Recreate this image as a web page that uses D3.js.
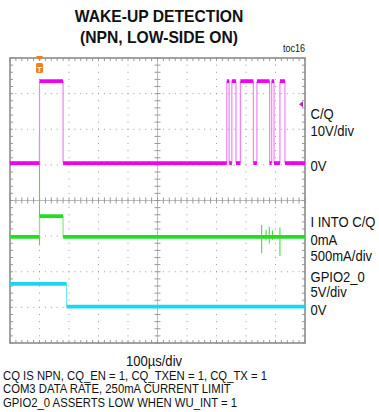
<!DOCTYPE html>
<html>
<head>
<meta charset="utf-8">
<script src="https://cdn.jsdelivr.net/npm/d3@7"></script>
<style>
  body { margin: 0; background: #fff; }
  text { font-family: "Liberation Sans", Arial, sans-serif; fill: #111; }
</style>
</head>
<body>
<script>
// time axis: 10 div x 100us
var timeDomain = [0, 1000];
var divX = 10, divY = 8;

// C/Q (V): alternating edges, starts low
var cqEdges = [100, 180, 735, 743, 752, 766, 781, 825, 837, 880, 887, 895, 915, 932];
var cqHigh = 23, cqLow = 0;

// I INTO C/Q (mA): steps and glitches
var iSteps = [[0, 0], [100, 290], [180, 0]];
var iSpikes = [[100, -120, 1470], [853, -230, 165], [868, -50, 95], [879, -95, 140], [890, -40, 90], [915, -270, 130]];

// GPIO2_0 (V)
var gpioSteps = [[0, 3.2], [192, 0]];

// channel zero offsets (div from center) and scales (units/div)
var chOffset = { cq: 1.05, i: -1.02, gpio: -2.98 };
var chScale = { cq: 10, i: 500, gpio: 5 };

var rightLabels = [
  ["C/Q", 119], ["10V/div", 136], ["0V", 170.5],
  ["I INTO C/Q", 226.5], ["0mA", 245], ["500mA/div", 261],
  ["GPIO2_0", 281.5], ["5V/div", 297], ["0V", 314.5]
];
var notes = [
  "CQ IS NPN,  CQ_EN = 1, CQ_TXEN = 1, CQ_TX = 1",
  "COM3 DATA RATE, 250mA CURRENT LIMIT",
  "GPIO2_0 ASSERTS LOW WHEN WU_INT = 1"
];

var W = 379, H = 412;
var plot = { left: 10, right: 305, top: 58, bottom: 343 };
var narrow = 0.87;

var svg = d3.select("body").append("svg")
    .attr("width", W)
    .attr("height", H);

var x = d3.scaleLinear().domain(timeDomain).range([plot.left, plot.right]);
var yDiv = d3.scaleLinear().domain([-divY / 2, divY / 2]).range([plot.bottom, plot.top]);
var xDiv = d3.scaleLinear().domain([0, divX]).range([plot.left, plot.right]);

function yOf(ch) {
    return v => yDiv(chOffset[ch] + v / chScale[ch]);
}

// grid dots
var grid = svg.append("g").attr("class", "grid");
var dotsX = d3.range(0, divX * 5 + 1).map(d => d / 5);
var dotsY = d3.range(0, divY * 5 + 1).map(d => d / 5 - divY / 2);
d3.range(1, divX).filter(d => d !== 5).forEach(function (k) {
    grid.selectAll(null).data(dotsY).enter().append("rect")
        .attr("x", xDiv(k) - 0.5).attr("y", d => yDiv(d) - 0.5)
        .attr("width", 1).attr("height", 1).attr("fill", "#9a9a9a");
});
d3.range(-divY / 2 + 1, divY / 2).filter(d => d !== 0).forEach(function (k) {
    grid.selectAll(null).data(dotsX).enter().append("rect")
        .attr("x", d => xDiv(d) - 0.5).attr("y", yDiv(k) - 0.5)
        .attr("width", 1).attr("height", 1).attr("fill", "#9a9a9a");
});

// center crosshair with ticks
var cx = xDiv(5), cy = yDiv(0);
grid.append("line").attr("x1", plot.left).attr("x2", plot.right)
    .attr("y1", cy).attr("y2", cy).attr("stroke", "#aaa").attr("stroke-width", 0.8);
grid.append("line").attr("y1", plot.top).attr("y2", plot.bottom)
    .attr("x1", cx).attr("x2", cx).attr("stroke", "#aaa").attr("stroke-width", 0.8);
grid.selectAll(null).data(dotsX).enter().append("line")
    .attr("x1", d => xDiv(d)).attr("x2", d => xDiv(d))
    .attr("y1", cy - 3).attr("y2", cy + 3).attr("stroke", "#999");
grid.selectAll(null).data(dotsY).enter().append("line")
    .attr("y1", d => yDiv(d)).attr("y2", d => yDiv(d))
    .attr("x1", cx - 3).attr("x2", cx + 3).attr("stroke", "#999");

// frame ticks
grid.selectAll(null).data(dotsX).enter().append("line")
    .attr("x1", d => xDiv(d)).attr("x2", d => xDiv(d))
    .attr("y1", plot.top).attr("y2", plot.top + 3).attr("stroke", "#999");
grid.selectAll(null).data(dotsX).enter().append("line")
    .attr("x1", d => xDiv(d)).attr("x2", d => xDiv(d))
    .attr("y1", plot.bottom).attr("y2", plot.bottom - 3).attr("stroke", "#999");
grid.selectAll(null).data(dotsY).enter().append("line")
    .attr("y1", d => yDiv(d)).attr("y2", d => yDiv(d))
    .attr("x1", plot.left).attr("x2", plot.left + 3).attr("stroke", "#999");
grid.selectAll(null).data(dotsY).enter().append("line")
    .attr("y1", d => yDiv(d)).attr("y2", d => yDiv(d))
    .attr("x1", plot.right).attr("x2", plot.right - 3).attr("stroke", "#999");

svg.append("rect")
    .attr("x", plot.left).attr("y", plot.top)
    .attr("width", plot.right - plot.left).attr("height", plot.bottom - plot.top)
    .attr("fill", "none").attr("stroke", "#8c8c8c").attr("stroke-width", 1.6);

// draw a step trace: thick plateaus, thin edges
function drawTrace(steps, ch, color, edgeColor) {
    var y = yOf(ch);
    var g = svg.append("g");
    var segs = steps.map((s, i) => ({
        t0: s[0], t1: i < steps.length - 1 ? steps[i + 1][0] : timeDomain[1], v: s[1]
    }));
    g.selectAll(null).data(segs.slice(1)).enter().append("line")
        .attr("x1", d => x(d.t0)).attr("x2", d => x(d.t0))
        .attr("y1", (d, i) => y(segs[i].v)).attr("y2", d => y(d.v))
        .attr("stroke", edgeColor).attr("stroke-width", 1.2);
    g.selectAll(null).data(segs).enter().append("line")
        .attr("x1", d => x(d.t0)).attr("x2", d => x(d.t1))
        .attr("y1", d => y(d.v)).attr("y2", d => y(d.v))
        .attr("stroke", color).attr("stroke-width", 3.8);
    return g;
}

var cqSteps = [[0, cqLow]].concat(cqEdges.map((t, i) => [t, i % 2 === 0 ? cqHigh : cqLow]));

// current glitches (behind)
var yi = yOf("i");
svg.append("g").selectAll("line").data(iSpikes).enter().append("line")
    .attr("x1", d => x(d[0])).attr("x2", d => x(d[0]))
    .attr("y1", d => yi(d[1])).attr("y2", d => yi(d[2]))
    .attr("stroke", "#44e044").attr("stroke-width", 1.1);

drawTrace(cqSteps, "cq", "#f000f0", "#f77ff7");
drawTrace(iSteps, "i", "#22dd22", "#7cf07c");
drawTrace(gpioSteps, "gpio", "#18d8f0", "#70e8f8");

// trigger marker
var tx = x(cqEdges[0]);
svg.append("path")
    .attr("d", "M" + (tx - 3.5) + "," + (plot.top - 2) + "L" + (tx + 3.5) + "," + (plot.top - 2) + "L" + tx + "," + (plot.top + 3) + "Z")
    .attr("fill", "#f08020");
svg.append("rect")
    .attr("x", tx - 3.5).attr("y", plot.top + 5)
    .attr("width", 7).attr("height", 10).attr("rx", 1.5)
    .attr("fill", "#f08020");
svg.append("text")
    .attr("x", tx).attr("y", plot.top + 13.5)
    .attr("text-anchor", "middle")
    .style("font-size", "8px").style("font-weight", "bold").style("fill", "#fff")
    .text("T");

// C/Q level marker on right edge
var mk = yDiv(chOffset.cq + 1.65);
svg.append("path")
    .attr("d", "M" + (plot.right - 6) + "," + mk + "L" + (plot.right - 2) + "," + (mk - 3) + "L" + (plot.right - 2) + "," + (mk + 3) + "Z")
    .attr("fill", "#c020c0");

// titles
svg.append("text").attr("transform", "translate(159,21.5) scale(0.95,1)").attr("text-anchor", "middle")
    .style("font-size", "16.5px").style("font-weight", "bold").text("WAKE-UP DETECTION");
svg.append("text").attr("transform", "translate(159,43) scale(0.95,1)").attr("text-anchor", "middle")
    .style("font-size", "16.5px").style("font-weight", "bold").text("(NPN, LOW-SIDE ON)");
svg.append("text").attr("transform", "translate(" + plot.right + ",52) scale(0.9,1)").attr("text-anchor", "end")
    .style("font-size", "10px").text("toc16");

svg.append("g").selectAll("text").data(rightLabels).enter().append("text")
    .attr("transform", d => "translate(310.5," + d[1] + ") scale(" + narrow + ",1)")
    .style("font-size", "15px")
    .text(d => d[0]);

svg.append("text").attr("transform", "translate(154,366) scale(" + narrow + ",1)").attr("text-anchor", "middle")
    .style("font-size", "15px").text("100µs/div");

svg.append("g").selectAll("text").data(notes).enter().append("text")
    .attr("transform", (d, i) => "translate(3," + (379.5 + i * 13.6) + ") scale(" + narrow + ",1)")
    .style("font-size", "13px")
    .text(d => d);
</script>
</body>
</html>
